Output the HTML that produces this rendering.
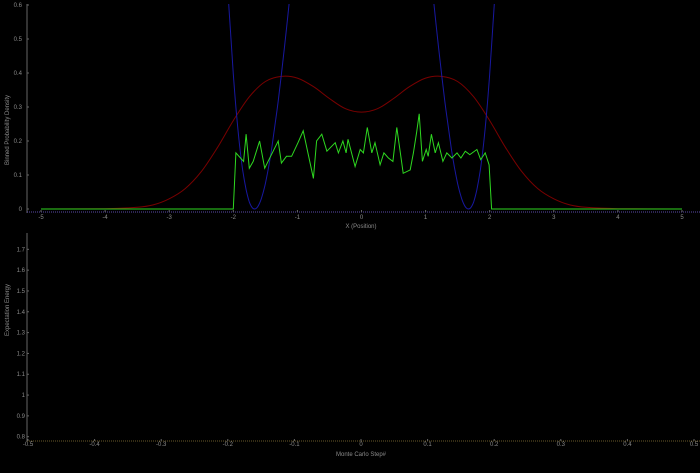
<!DOCTYPE html>
<html><head><meta charset="utf-8"><style>
html,body{margin:0;padding:0;background:#000;width:700px;height:473px;overflow:hidden}
svg{display:block;font-family:"Liberation Sans",sans-serif}
</style></head><body>
<svg id="c" width="700" height="473"></svg>
<script>
const topXTicks=[-5,-4,-3,-2,-1,0,1,2,3,4,5];
const topYTicks=[0,0.1,0.2,0.3,0.4,0.5,0.6];
const potXL=[-2.2,-2.1,-2.05,-2.0,-1.95,-1.9,-1.85,-1.8,-1.75,-1.7,-1.65,-1.6,-1.55,-1.5,-1.45,-1.4,-1.3,-1.2,-1.15,-1.1,-1.05,-1.0];
const potYL=[1.2,0.709,0.540,0.397,0.279,0.184,0.110,0.057,0.021,0.003,0.001,0.013,0.038,0.075,0.123,0.18,0.317,0.479,0.567,0.658,0.751,0.85];
const potXR=[1.0,1.05,1.1,1.15,1.2,1.3,1.4,1.45,1.5,1.55,1.6,1.65,1.7,1.75,1.8,1.85,1.9,1.95,2.0,2.05,2.1,2.2];
const potYR=[0.85,0.751,0.658,0.567,0.479,0.317,0.18,0.123,0.075,0.038,0.013,0.001,0.003,0.021,0.057,0.110,0.184,0.279,0.397,0.540,0.709,1.2];
const densX=[-5,-4,-3.5,-3.25,-3,-2.75,-2.5,-2.25,-2,-1.75,-1.5,-1.25,-1,-0.75,-0.5,-0.25,0,0.25,0.5,0.75,1,1.25,1.5,1.75,2,2.25,2.5,2.75,3,3.25,3.5,4,5];
const densY=[0,0.001,0.005,0.012,0.03,0.06,0.11,0.18,0.26,0.33,0.375,0.39,0.385,0.36,0.325,0.295,0.285,0.295,0.325,0.36,0.385,0.39,0.375,0.33,0.26,0.18,0.11,0.06,0.03,0.012,0.005,0.001,0];
const histX=[-5,-2.0,-1.96,-1.84,-1.80,-1.75,-1.69,-1.59,-1.51,-1.30,-1.25,-1.17,-1.09,-0.99,-0.91,-0.83,-0.75,-0.70,-0.62,-0.54,-0.41,-0.36,-0.29,-0.24,-0.21,-0.10,-0.02,0.03,0.09,0.16,0.21,0.29,0.35,0.42,0.49,0.55,0.65,0.76,0.81,0.86,0.90,0.95,1.01,1.04,1.09,1.15,1.20,1.27,1.33,1.41,1.49,1.55,1.62,1.69,1.80,1.86,1.93,1.99,2.03,5];
const histY=[0,0,0.165,0.14,0.22,0.12,0.14,0.2,0.12,0.2,0.135,0.155,0.155,0.195,0.23,0.16,0.09,0.2,0.22,0.17,0.195,0.165,0.2,0.165,0.205,0.125,0.175,0.165,0.24,0.165,0.195,0.13,0.165,0.15,0.14,0.24,0.105,0.115,0.165,0.225,0.28,0.14,0.175,0.155,0.22,0.165,0.195,0.14,0.165,0.15,0.165,0.15,0.17,0.16,0.175,0.145,0.165,0.13,0,0];
const botXTicks=[-0.5,-0.4,-0.3,-0.2,-0.1,0,0.1,0.2,0.3,0.4,0.5];
const botYTicks=[0.8,0.9,1,1.1,1.2,1.3,1.4,1.5,1.6,1.7];

const NS="http://www.w3.org/2000/svg",svg=document.getElementById('c');
function mk(t,a,p){const e=document.createElementNS(NS,t);for(const k in a)e.setAttribute(k,a[k]);(p||svg).appendChild(e);return e;}
const tx=v=>361.5+v*64.1, ty=v=>209-v*340;
const bx=v=>361+v*666, by=v=>436.7-(v-0.8)*208.2;
const lab='#8a8a8a';
const defs=mk('defs',{});const cp=mk('clipPath',{id:'tc'},defs);mk('rect',{x:27,y:4,width:673,height:210},cp);

let g=mk('g',{});


mk('line',{x1:27,y1:4,x2:27,y2:213,stroke:'#666','stroke-width':1},g);
topYTicks.forEach(v=>{let t=mk('text',{x:22,y:ty(v)+2,'font-size':6,fill:lab,'text-anchor':'end'},g);t.textContent=v;
 mk('line',{x1:27,y1:ty(v),x2:29,y2:ty(v),stroke:'#666'},g);});
g=mk('g',{});


mk('line',{x1:27,y1:212,x2:700,y2:212,stroke:'#5a4aa8','stroke-width':1,'stroke-dasharray':'1,1'},g);
topXTicks.forEach(v=>{let t=mk('text',{x:tx(v),y:219,'font-size':6,fill:lab,'text-anchor':'middle'},g);t.textContent=v;
 mk('line',{x1:tx(v),y1:210,x2:tx(v),y2:212,stroke:'#666'},g);});
let t=mk('text',{x:361,y:228,'font-size':6,fill:lab,'text-anchor':'middle'});t.textContent='X (Position)';

t=mk('text',{x:9,y:130,'font-size':6,fill:lab,'text-anchor':'middle',transform:'rotate(-90 9 130)'});t.textContent='Binned Probability Density';


function path(xs,ys,fx,fy){return xs.map((x,i)=>(i?'L':'M')+fx(x).toFixed(1)+' '+fy(ys[i]).toFixed(1)).join(' ');}
function smooth(xs,ys,fx,fy){const P=xs.map((x,i)=>[fx(x),fy(ys[i])]);let d='M'+P[0][0].toFixed(1)+' '+P[0][1].toFixed(1);
 for(let i=0;i<P.length-1;i++){const p0=P[i-1]||P[i],p1=P[i],p2=P[i+1],p3=P[i+2]||P[i+1];
  const c1=[p1[0]+(p2[0]-p0[0])/6,p1[1]+(p2[1]-p0[1])/6],c2=[p2[0]-(p3[0]-p1[0])/6,p2[1]-(p3[1]-p1[1])/6];
  d+=' C'+c1.map(n=>n.toFixed(1)).join(' ')+' '+c2.map(n=>n.toFixed(1)).join(' ')+' '+p2[0].toFixed(1)+' '+p2[1].toFixed(1);}
 return d;}
let p=mk('path',{d:smooth(densX,densY,tx,ty),fill:'none',stroke:'#7a0000','stroke-width':1,'clip-path':'url(#tc)'});

p=mk('path',{d:smooth(potXL,potYL,tx,ty)+' '+smooth(potXR,potYR,tx,ty),fill:'none',stroke:'#1818a0','stroke-width':1,'clip-path':'url(#tc)'});

p=mk('path',{d:path(histX,histY,tx,ty),fill:'none',stroke:'#2ed820','stroke-width':1,'clip-path':'url(#tc)'});


g=mk('g',{});


mk('line',{x1:27,y1:233,x2:27,y2:441,stroke:'#666'},g);
botYTicks.forEach(v=>{let t=mk('text',{x:25,y:by(v)+2,'font-size':6,fill:lab,'text-anchor':'end'},g);t.textContent=v;
 mk('line',{x1:27,y1:by(v),x2:29,y2:by(v),stroke:'#666'},g);});
g=mk('g',{});


mk('line',{x1:27,y1:441,x2:700,y2:441,stroke:'#6a5a2a','stroke-width':1,'stroke-dasharray':'1,1'},g);
botXTicks.forEach(v=>{let t=mk('text',{x:bx(v),y:446,'font-size':6,fill:lab,'text-anchor':'middle'},g);t.textContent=v;
 mk('line',{x1:bx(v),y1:439,x2:bx(v),y2:441,stroke:'#666'},g);});
t=mk('text',{x:361,y:456,'font-size':6,fill:lab,'text-anchor':'middle'});t.textContent='Monte Carlo Step#';

t=mk('text',{x:9,y:310,'font-size':6,fill:lab,'text-anchor':'middle',transform:'rotate(-90 9 310)'});t.textContent='Expectation Energy';

</script>
</body></html>
